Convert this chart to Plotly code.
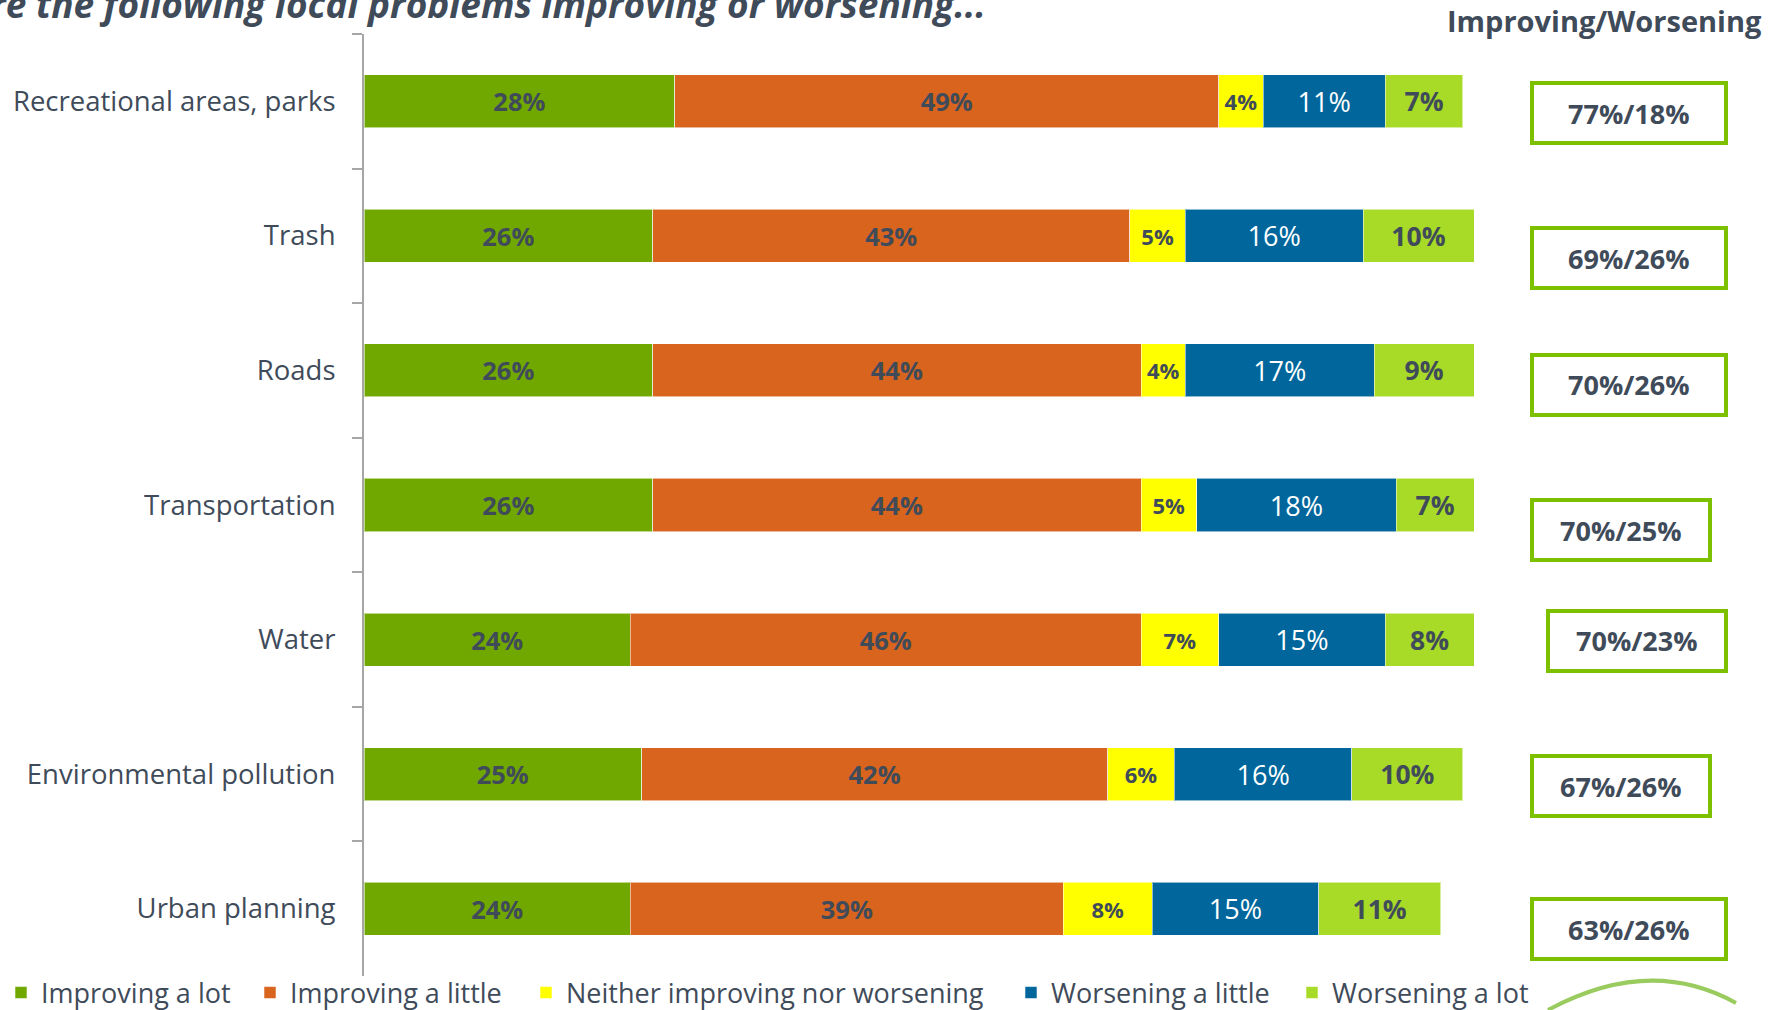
import plotly.graph_objects as go

categories = ["Recreational areas, parks", "Trash", "Roads", "Transportation",
              "Water", "Environmental pollution", "Urban planning"]
improving_lot = [28, 26, 26, 26, 24, 25, 24]
improving_little = [49, 43, 44, 44, 46, 42, 39]
neither = [4, 5, 4, 5, 7, 6, 8]
worsening_little = [11, 16, 17, 18, 15, 16, 15]
worsening_lot = [7, 10, 9, 7, 8, 10, 11]

series_names = ["Improving a lot", "Improving a little", "Neither improving nor worsening",
                "Worsening a little", "Worsening a lot"]

TXT = "#404B5A"
FONT = "Open Sans"

styles = [
    dict(color="#70A800", tcolor=TXT, size=25.5, bold=True),
    dict(color="#D9641E", tcolor=TXT, size=25.5, bold=True),
    dict(color="#FFFF00", tcolor=TXT, size=22, bold=True),
    dict(color="#00669C", tcolor="#FFFFFF", size=27, bold=False),
    dict(color="#A8DA28", tcolor=TXT, size=26.5, bold=True),
]

all_series = [improving_lot, improving_little, neither, worsening_little, worsening_lot]

# layout geometry (pixels)
W, H = 1769, 1010
L, R_edge, T, B = 364, 1474, 34, 976
PAPER_B = H  # bottom margin 0, y-axis domain starts at B
def px(x):
    return (x - L) / (R_edge - L)
def py(y):
    return (PAPER_B - y) / (PAPER_B - T)

legend_centers = [23, 272, 548, 1033, 1314]

fig = go.Figure()
for i, (name, vals, st) in enumerate(zip(series_names, all_series, styles)):
    txt = [(f"<b>{v}%</b>" if st["bold"] else f"{v}%") for v in vals]
    fig.add_trace(go.Bar(
        y=categories, x=vals, name=name, orientation="h",
        marker=dict(color=st["color"], line=dict(color="rgba(255,255,255,0.55)", width=1)),
        text=txt, textposition="inside", insidetextanchor="middle", textangle=0,
        textfont=dict(family=FONT, size=st["size"], color=st["tcolor"]),
        hoverinfo="skip",
        legend="legend" if i == 0 else f"legend{i + 1}",
    ))

box_geom = [
    (1532, 1726, 83, 143),
    (1532, 1726, 228, 288),
    (1532, 1726, 355, 415),
    (1532, 1710, 500, 560),
    (1548, 1726, 611, 671),
    (1532, 1710, 756, 816),
    (1532, 1726, 899, 959),
]
shapes = []
annotations = []
for i, (x0, x1, y0, y1) in enumerate(box_geom):
    imp = improving_lot[i] + improving_little[i]
    wor = worsening_little[i] + worsening_lot[i]
    shapes.append(dict(type="rect", xref="paper", yref="paper",
                       x0=px(x0), x1=px(x1), y0=py(y1), y1=py(y0),
                       line=dict(color="#7CC000", width=4), fillcolor="white", layer="above"))
    annotations.append(dict(xref="paper", yref="paper", x=px((x0 + x1) / 2), y=py((y0 + y1) / 2),
                            text=f"<b>{imp}%/{wor}%</b>", showarrow=False,
                            xanchor="center", yanchor="middle",
                            font=dict(family=FONT, size=27, color=TXT)))

annotations.append(dict(xref="paper", yref="paper", x=px(1604), y=py(42),
                        text="<b>Improving/Worsening</b>", showarrow=False,
                        xanchor="center", yanchor="bottom",
                        font=dict(family=FONT, size=29, color=TXT)))
annotations.append(dict(xref="paper", yref="paper", x=px(988), y=py(31),
                        text="<b><i>Are the following local problems improving or worsening...</i></b>",
                        showarrow=False, xanchor="right", yanchor="bottom",
                        font=dict(family=FONT, size=37, color=TXT)))

# decorative swoosh at bottom right
shapes.append(dict(type="path", xref="paper", yref="paper",
                   path=f"M {px(1548)},{py(1010)} Q {px(1650)},{py(955)} {px(1736)},{py(1003)}",
                   line=dict(color="rgba(120,185,40,0.75)", width=4), layer="above"))

legend_style = dict(orientation="h", xref="paper", yref="paper", y=py(993),
                    xanchor="left", yanchor="middle",
                    font=dict(family=FONT, size=27, color=TXT), itemclick=False,
                    bgcolor="rgba(0,0,0,0)")
legends = {}
for i, c in enumerate(legend_centers):
    key = "legend" if i == 0 else f"legend{i + 1}"
    legends[key] = dict(legend_style, x=px(c - 22))

fig.update_layout(
    width=W, height=H, template="none",
    barmode="stack", bargap=0.606,
    plot_bgcolor="white", paper_bgcolor="white",
    margin=dict(l=L, r=W - R_edge, t=T, b=0, pad=0, autoexpand=False),
    font=dict(family=FONT, color=TXT),
    xaxis=dict(range=[0, 100], visible=False, fixedrange=True, automargin=False),
    yaxis=dict(type="category", autorange="reversed", tickson="boundaries",
               domain=[(PAPER_B - B) / (PAPER_B - T), 1], automargin=False,
               ticks="outside", ticklen=10, tickwidth=2, tickcolor="#A6A6A6",
               showline=True, linecolor="#A6A6A6", linewidth=2, showgrid=False,
               zeroline=False, ticklabelstandoff=21, fixedrange=True,
               tickfont=dict(family=FONT, size=27.5, color=TXT)),
    shapes=shapes, annotations=annotations, showlegend=True,
    **legends,
)

fig.write_html("out.html", config={"displayModeBar": False},
               post_script="document.body.style.margin='0';document.body.style.overflow='hidden';")
